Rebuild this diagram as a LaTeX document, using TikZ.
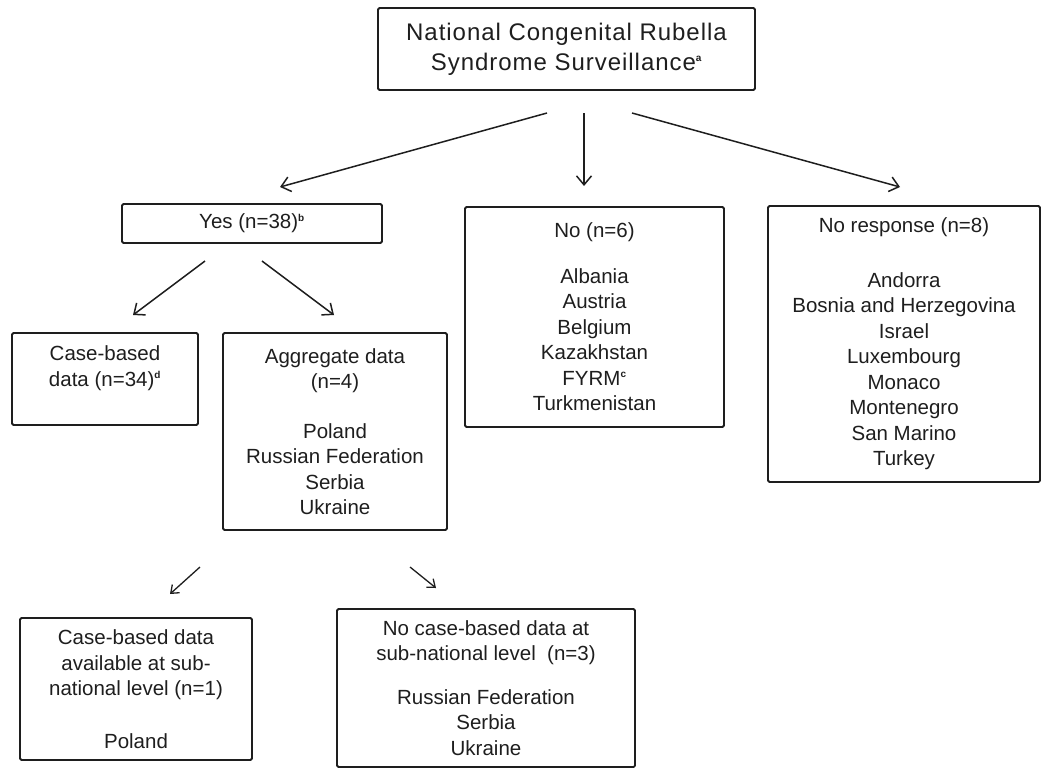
\documentclass[tikz,border=0pt]{standalone}
\usepackage{fontspec}
\setmainfont{Liberation Sans}
\usetikzlibrary{arrows.meta}
\definecolor{inkc}{RGB}{30,30,30}
\newcommand{\fnmark}[1]{\textsuperscript{\fontsize{10}{10}\selectfont\bfseries #1}}
\tikzset{
  box/.style={rectangle,draw=inkc,line width=1.8pt,rounded corners=1.5pt,align=center,inner sep=0pt,text=inkc,font=\fontsize{20.5}{25.5}\selectfont},
  flow/.style={-{Straight Barb[length=9pt,width=15pt]},line width=1.5pt,inkc},
  minor/.style={-{Straight Barb[length=7pt,width=11pt]},line width=1.3pt,inkc},
}
\begin{document}
\begin{tikzpicture}[x=1pt,y=-1pt]
  \useasboundingbox (0,0) rectangle (1046,769);
  % boxes
  \node[box,minimum width=377pt,minimum height=82pt,font=\fontsize{24}{30}\selectfont\addfontfeature{LetterSpace=4}] (natl) at (566.5,49)
     {National Congenital Rubella\\Syndrome Surveillance\fnmark{a}};
  \node[box,minimum width=260pt,minimum height=39pt] (yes) at (252,223.5) {Yes (n=38)\fnmark{b}};
  \node[box,minimum width=259pt,minimum height=220pt] (no) at (594.5,317)
     {No (n=6)\\[20pt]Albania\\Austria\\Belgium\\Kazakhstan\\FYRM\fnmark{c}\\Turkmenistan};
  \node[box,minimum width=272pt,minimum height=276pt] (noresp) at (904,344)
     {No response (n=8)\\[29pt]Andorra\\Bosnia and Herzegovina\\Israel\\Luxembourg\\Monaco\\Montenegro\\San Marino\\Turkey};
  \node[box,minimum width=186pt,minimum height=92pt] (casebased) at (105,379)
     {Case-based\\data (n=34)\fnmark{d}\\~};
  \node[box,minimum width=224pt,minimum height=197pt] (aggr) at (335,431.5)
     {Aggregate data\\(n=4)\\[24pt]Poland\\Russian Federation\\Serbia\\Ukraine};
  \node[box,minimum width=232pt,minimum height=142pt] (subcase) at (136,689)
     {Case-based data\\available at sub-\\national level (n=1)\\[27pt]Poland};
  \node[box,minimum width=298pt,minimum height=158pt] (subnone) at (486,688)
     {No case-based data at\\sub-national level~ (n=3)\\[18pt]Russian Federation\\Serbia\\Ukraine};
  % connectors
  \foreach \i/\xs/\ys/\xe/\ye in {1/547/113/280/187,2/584/113/584/186,3/632/113/900/187,4/205/261/133/315,5/262/261/334/315}{
     \coordinate (from\i) at (\xs,\ys);
     \coordinate (to\i) at (\xe,\ye);
     \draw[flow] (from\i) -- (to\i);}
  \foreach \i/\xs/\ys/\xe/\ye in {6/200/567/170/594,7/410/567/436/588}{
     \coordinate (from\i) at (\xs,\ys);
     \coordinate (to\i) at (\xe,\ye);
     \draw[minor] (from\i) -- (to\i);}
\end{tikzpicture}
\end{document}
